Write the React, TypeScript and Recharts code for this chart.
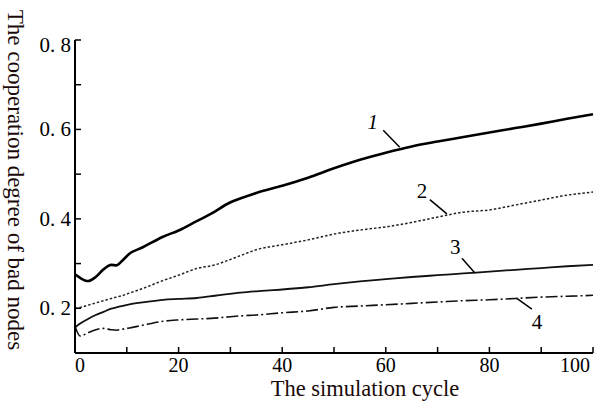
import React from 'react';
import { LineChart, Line, XAxis, YAxis, ReferenceLine, ReferenceDot } from 'recharts';

const cycles = [0, 1, 2.5, 4, 5.5, 7, 8, 9, 10.5, 13, 17, 20, 23.5, 27, 29, 32, 35, 40, 45, 50, 55, 60, 65, 70, 75, 80, 85, 90, 95, 100];
const curve1 = [0.276, 0.268, 0.261, 0.270, 0.287, 0.297, 0.296, 0.305, 0.322, 0.336, 0.360, 0.374, 0.395, 0.416, 0.431, 0.446, 0.458, 0.474, 0.492, 0.513, 0.532, 0.548, 0.562, 0.573, 0.583, 0.593, 0.603, 0.613, 0.624, 0.634];
const curve2 = [0.200, 0.202, 0.207, 0.212, 0.217, 0.222, 0.225, 0.228, 0.234, 0.244, 0.262, 0.274, 0.289, 0.297, 0.305, 0.318, 0.331, 0.342, 0.353, 0.366, 0.375, 0.382, 0.392, 0.404, 0.415, 0.420, 0.431, 0.442, 0.453, 0.460];
const curve3 = [0.157, 0.166, 0.176, 0.185, 0.192, 0.199, 0.202, 0.205, 0.209, 0.213, 0.219, 0.221, 0.223, 0.228, 0.231, 0.235, 0.238, 0.242, 0.247, 0.254, 0.260, 0.265, 0.270, 0.274, 0.278, 0.282, 0.286, 0.290, 0.294, 0.297];
const curve4 = [0.160, 0.138, 0.145, 0.152, 0.155, 0.152, 0.151, 0.153, 0.156, 0.162, 0.171, 0.174, 0.176, 0.178, 0.180, 0.183, 0.185, 0.190, 0.194, 0.202, 0.205, 0.208, 0.211, 0.214, 0.217, 0.219, 0.222, 0.225, 0.227, 0.229];

const xTicks = [0, 10, 20, 30, 40, 50, 60, 70, 80, 90, 100];
const xTickLabels = ['0', '', '20', '', '40', '', '60', '', '80', '', '100'];
const yTicks = [0.2, 0.3, 0.4, 0.5, 0.6, 0.7, 0.8];
const yTickLabels = ['0. 2', '', '0. 4', '', '0. 6', '', '0. 8'];

const curveNames = ['1', '2', '3', '4'];
const labelPos = [
  { x: 57.5, y: 0.618 },
  { x: 67.0, y: 0.463 },
  { x: 73.4, y: 0.339 },
  { x: 89.2, y: 0.171 },
];
const leaders = [
  [{ x: 59.5, y: 0.598 }, { x: 62.7, y: 0.560 }],
  [{ x: 68.5, y: 0.443 }, { x: 71.8, y: 0.411 }],
  [{ x: 74.7, y: 0.312 }, { x: 77.2, y: 0.279 }],
  [{ x: 85.3, y: 0.222 }, { x: 88.2, y: 0.198 }],
];

const data = cycles.map((c, i) => ({
  cycle: c,
  c1: curve1[i],
  c2: curve2[i],
  c3: curve3[i],
  c4: curve4[i],
}));

const FONT = '"Liberation Serif", "DejaVu Serif", serif';

const XTick = (props: any) => {
  const { x, y, payload } = props;
  const idx = xTicks.indexOf(payload.value);
  const label = idx >= 0 ? xTickLabels[idx] : '';
  let dx = 0;
  if (payload.value === 0) dx = 5;
  if (payload.value === 100) dx = -18;
  return (
    <g>
      {payload.value !== 0 && <line x1={x} y1={y} x2={x} y2={y - 6} stroke="#000" strokeWidth={1.5} />}
      {label && (
        <text x={x + dx} y={y + 19} textAnchor="middle" style={{ fontFamily: FONT, fontSize: 20 }} fill="#000">
          {label}
        </text>
      )}
    </g>
  );
};

const YTick = (props: any) => {
  const { x, y, payload } = props;
  const idx = yTicks.findIndex((t) => Math.abs(t - payload.value) < 1e-6);
  const label = idx >= 0 ? yTickLabels[idx] : '';
  const dy = Math.abs(payload.value - 0.8) < 1e-6 ? 5 : 0;
  return (
    <g>
      <line x1={x} y1={y} x2={x + 6} y2={y} stroke="#000" strokeWidth={1.5} />
      {label && (
        <text x={x - 4} y={y + dy + 7} textAnchor="end" style={{ fontFamily: FONT, fontSize: 21 }} fill="#000">
          {label}
        </text>
      )}
    </g>
  );
};

const XTitle = (props: any) => {
  const vb = props.viewBox || { x: 75, y: 353, width: 518, height: 25 };
  return (
    <text x={vb.x + vb.width / 2 + 31} y={vb.y + 43} textAnchor="middle" style={{ fontFamily: FONT, fontSize: 22.5 }} fill="#1a0a0a">
      The simulation cycle
    </text>
  );
};

const YTitle = () => {
  const cx = 15;
  const cy = 180;
  return (
    <text
      x={cx}
      y={cy}
      transform={`rotate(90, ${cx}, ${cy})`}
      textAnchor="middle"
      dominantBaseline="central"
      style={{ fontFamily: FONT, fontSize: 23 }}
      fill="#1a0a0a"
    >
      The cooperation degree of bad nodes
    </text>
  );
};

export default function App() {
  return (
    <div style={{ position: 'absolute', left: 0, top: 0, width: 604, height: 418, background: '#fff' }}>
      <LineChart width={604} height={418} data={data} margin={{ top: 40, right: 11, left: 0, bottom: 40 }} style={{ fontFamily: FONT }}>
        <XAxis
          type="number"
          dataKey="cycle"
          domain={[0, 100]}
          ticks={xTicks}
          interval={0}
          tick={<XTick />}
          tickLine={false}
          tickSize={0}
          tickMargin={0}
          height={25}
          axisLine={{ stroke: '#000', strokeWidth: 2 }}
          label={{ content: <XTitle /> }}
        />
        <YAxis
          type="number"
          domain={[0.1, 0.8]}
          ticks={yTicks}
          interval={0}
          tick={<YTick />}
          tickLine={false}
          tickSize={0}
          tickMargin={0}
          width={75}
          axisLine={{ stroke: '#000', strokeWidth: 2 }}
          label={{ content: <YTitle /> }}
        />
        <Line type="monotone" dataKey="c1" stroke="#000" strokeWidth={2.6} dot={false} isAnimationActive={false} />
        <Line type="monotone" dataKey="c2" stroke="#222" strokeWidth={1.5} strokeDasharray="2.5 2" dot={false} isAnimationActive={false} />
        <Line type="monotone" dataKey="c3" stroke="#111" strokeWidth={1.8} dot={false} isAnimationActive={false} />
        <Line type="monotone" dataKey="c4" stroke="#111" strokeWidth={1.6} strokeDasharray="12 3 2 3" dot={false} isAnimationActive={false} />
        {leaders.map((seg, i) => (
          <ReferenceLine key={'l' + i} segment={seg} stroke="#000" strokeWidth={1.5} />
        ))}
        {labelPos.map((p, i) => (
          <ReferenceDot
            key={'d' + i}
            x={p.x}
            y={p.y}
            r={0}
            fill="none"
            stroke="none"
            label={{ value: curveNames[i], position: 'center', fontFamily: FONT, fontSize: 21, fill: '#000', fontStyle: i === 0 ? 'italic' : 'normal' }}
          />
        ))}
      </LineChart>
    </div>
  );
}
